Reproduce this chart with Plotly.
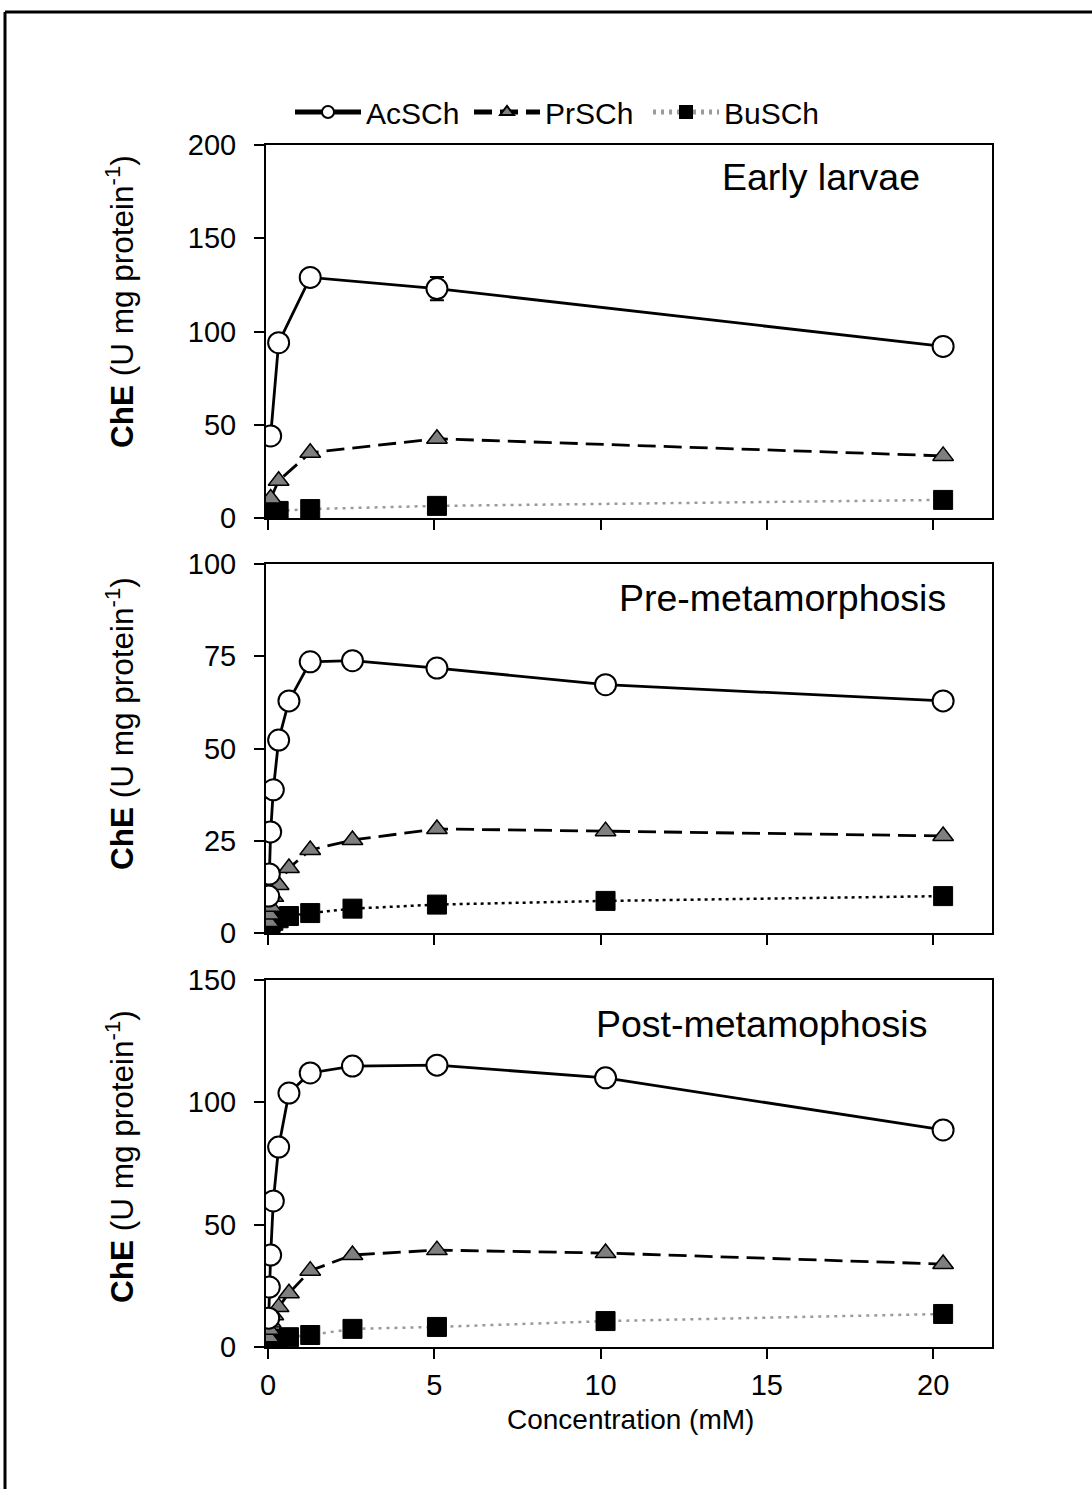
import plotly.graph_objects as go

W, H = 1092, 1489
FONT = "Liberation Sans, Arial, sans-serif"

# ---------------- data ----------------
conc_early = [0.08, 0.32, 1.27, 5.08, 20.3]
early_ac = [44, 94, 129, 123, 92]
early_ac_err = [0, 0, 0, 6.2, 0]
early_pr = [10.5, 20, 35, 42.5, 33.3]
early_bu = [3.5, 3.8, 4.8, 6.5, 9.7]

conc_full = [0.02, 0.04, 0.08, 0.16, 0.32, 0.63, 1.27, 2.54, 5.08, 10.15, 20.3]
pre_ac = [10, 16, 27.4, 38.8, 52.3, 62.9, 73.5, 73.8, 71.8, 67.3, 62.9]
pre_pr = [3, 5, 7.1, 9.8, 13, 17.6, 22.5, 25.2, 28.2, 27.6, 26.3]
pre_bu = [1.5, 2, 2.7, 3.3, 4, 4.6, 5.4, 6.6, 7.7, 8.7, 10]

post_ac = [11.8, 24.5, 37.6, 59.7, 81.7, 103.8, 112, 114.8, 115.2, 110, 88.7]
post_pr = [4, 7, 10, 13, 16.3, 22, 31.2, 37.6, 39.6, 38.4, 33.9]
post_bu = [1.5, 2, 2.5, 3, 3.5, 4, 4.9, 7.4, 8.2, 10.6, 13.5]

panel_titles = ["Early larvae", "Pre-metamorphosis", "Post-metamophosis"]
series_names = ["AcSCh", "PrSCh", "BuSCh"]
y_ranges = [[0, 200], [0, 100], [0, 150]]
y_dticks = [50, 25, 50]
x_ticks = [0, 5, 10, 15, 20]
x_range = [-0.06, 21.77]

# ---------------- layout geometry (pixels) ----------------
x_left, x_right = 266, 992
panels_px = [(145, 518), (564, 933), (980, 1347)]


def fy(py):
    return 1 - py / H


def fx(px):
    return px / W


fig = go.Figure()

panels = [
    (conc_early, early_ac, early_pr, early_bu, early_ac_err, "#9a9a9a", "3px,5px"),
    (conc_full, pre_ac, pre_pr, pre_bu, None, "black", "3px,4px"),
    (conc_full, post_ac, post_pr, post_bu, None, "#9a9a9a", "3px,5px"),
]

for i, (xs, ac, pr, bu, err, bu_col, bu_dash) in enumerate(panels):
    xa = "x" if i == 0 else f"x{i+1}"
    ya = "y" if i == 0 else f"y{i+1}"
    show = i == 0
    # BuSCh
    fig.add_trace(go.Scatter(
        x=xs, y=bu, name=series_names[2], mode="lines+markers",
        line=dict(color=bu_col, width=2.5, dash=bu_dash),
        marker=dict(symbol="square", size=19, color="black",
                    line=dict(color="black", width=1)),
        xaxis=xa, yaxis=ya, showlegend=show, legendrank=3,
    ))
    # PrSCh
    fig.add_trace(go.Scatter(
        x=xs, y=pr, name=series_names[1], mode="lines+markers",
        line=dict(color="black", width=2.8, dash="18px,8px"),
        marker=dict(symbol="triangle-up", size=18, color="#7f7f7f",
                    line=dict(color="black", width=1.5)),
        xaxis=xa, yaxis=ya, showlegend=show, legendrank=2,
    ))
    # AcSCh
    kw = {}
    if err is not None:
        kw["error_y"] = dict(type="data", array=err, visible=True,
                             color="black", thickness=2, width=7)
    fig.add_trace(go.Scatter(
        x=xs, y=ac, name=series_names[0], mode="lines+markers",
        line=dict(color="black", width=2.8),
        marker=dict(symbol="circle", size=21, color="white",
                    line=dict(color="black", width=2)),
        xaxis=xa, yaxis=ya, showlegend=show, legendrank=1, **kw,
    ))

axis_common = dict(
    showline=True, linecolor="black", linewidth=2, mirror=True,
    ticks="outside", ticklen=10, tickwidth=2, tickcolor="black",
    showgrid=False, zeroline=False, automargin=False,
    tickfont=dict(family=FONT, size=29, color="black"),
)

layout = dict(
    width=W, height=H, autosize=False,
    margin=dict(l=0, r=0, t=0, b=0, pad=0, autoexpand=False),
    paper_bgcolor="white", plot_bgcolor="white",
    font=dict(family=FONT, color="black"),
    legend=dict(orientation="h", x=fx(290), y=fy(112), xanchor="left",
                yanchor="middle", font=dict(family=FONT, size=30),
                bgcolor="rgba(0,0,0,0)", traceorder="normal",
                itemsizing="constant", tracegroupgap=0, itemwidth=66,
                entrywidth=98, entrywidthmode="pixels"),
)

annotations = []
for i, (top, bot) in enumerate(panels_px):
    sfx = "" if i == 0 else str(i + 1)
    layout["xaxis" + sfx] = dict(
        axis_common, domain=[fx(x_left), fx(x_right)], range=x_range,
        tickvals=x_ticks, showticklabels=(i == 2), anchor="y" + sfx,
        ticklabelstandoff=1,
    )
    layout["yaxis" + sfx] = dict(
        axis_common, domain=[fy(bot), fy(top)], range=y_ranges[i],
        dtick=y_dticks[i], tick0=0, anchor="x" + sfx, ticklabelstandoff=12,
    )

# panel titles
title_pos = [(922, 177), (948, 598), (929, 1024)]
for t, (px, py) in zip(panel_titles, title_pos):
    annotations.append(dict(text=t, x=fx(px), y=fy(py), xref="paper", yref="paper",
                            xanchor="right", yanchor="middle", showarrow=False,
                            font=dict(family=FONT, size=37.5, color="black")))

# y titles
ytitle_y = [302, 724, 1157]
for py in ytitle_y:
    annotations.append(dict(text="<b>ChE</b> (U mg protein<sup>-1</sup>)",
                            x=fx(120), y=fy(py), xref="paper", yref="paper",
                            xanchor="center", yanchor="middle", textangle=-90,
                            showarrow=False,
                            font=dict(family=FONT, size=31.5, color="black")))

# x title
annotations.append(dict(text="Concentration (mM)", x=fx(630), y=fy(1419),
                        xref="paper", yref="paper", xanchor="center",
                        yanchor="middle", showarrow=False,
                        font=dict(family=FONT, size=28, color="black")))

layout["annotations"] = annotations

# outer frame (left and top edges visible in the reference)
layout["shapes"] = [
    dict(type="line", xref="paper", yref="paper", x0=fx(5), x1=fx(5),
         y0=0, y1=fy(12), line=dict(color="black", width=3)),
    dict(type="line", xref="paper", yref="paper", x0=fx(5), x1=1.0,
         y0=fy(12), y1=fy(12), line=dict(color="black", width=3)),
]

fig.update_layout(**layout)
fig.write_html(
    "out.html",
    post_script="document.body.style.margin='0px';document.body.style.overflow='hidden';",
)
